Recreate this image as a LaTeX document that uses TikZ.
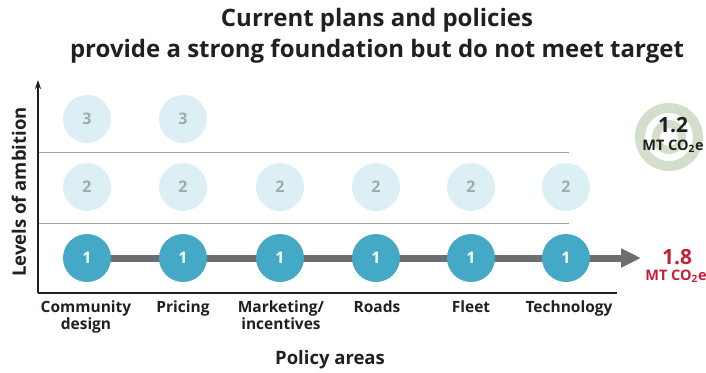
\documentclass[tikz,border=0pt]{standalone}
\usepackage{fontspec}
\setmainfont{Open Sans}
\usetikzlibrary{arrows.meta}
\definecolor{teal}{HTML}{43A9C6}
\definecolor{paleblue}{HTML}{DCEFF4}
\definecolor{numgray}{HTML}{A7A9AC}
\definecolor{bargray}{HTML}{6D6E71}
\definecolor{gridgray}{HTML}{9D9FA2}
\definecolor{targetred}{HTML}{C4203A}
\definecolor{sage}{HTML}{D3DFCB}
\definecolor{ink}{HTML}{231F20}
\tikzset{
  lvlone/.style={circle, fill=teal, minimum size=48pt, inner sep=0pt,
    text=white, font=\bfseries\fontsize{16}{16}\selectfont},
  lvlup/.style={circle, fill=paleblue, minimum size=48pt, inner sep=0pt,
    text=numgray, font=\bfseries\fontsize{16}{16}\selectfont},
  cat/.style={align=center, text=ink, font=\bfseries\fontsize{15.5}{17}\selectfont},
  gridline/.style={draw=gridgray, line width=1pt},
  axisline/.style={draw=ink, line width=1.2pt},
  axtitle/.style={text=ink, font=\bfseries\fontsize{18.5}{20}\selectfont},
  bigval/.style={font=\bfseries\fontsize{21}{21}\selectfont},
  unitval/.style={font=\bfseries\fontsize{14.5}{15}\selectfont},
}
\begin{document}
\begin{tikzpicture}[x=1pt, y=-1pt]
\useasboundingbox (0,0) rectangle (706,372);

% title
\node[align=center, text=ink, font=\bfseries\fontsize{24}{31}\selectfont] (title) at (377,36)
  {Current plans and policies\\provide a strong foundation but do not meet target};

% grid lines between levels
\coordinate (g1a) at (38,152); \coordinate (g1b) at (569,152);
\coordinate (g2a) at (38,223); \coordinate (g2b) at (569,223);
\draw[gridline] (g1a) -- (g1b);
\draw[gridline] (g2a) -- (g2b);

% axes
\coordinate (origin) at (38,293);
\coordinate (ytop) at (38,80);
\coordinate (xend) at (617,293);
\draw[axisline, -{Stealth[length=9pt, width=6pt]}] (origin) -- (ytop);
\draw[axisline] (origin) -- (xend);

% baseline arrow through level 1
\coordinate (arrowtip) at (641,258);
\draw[bargray, line width=7pt, -{Triangle[length=20pt, width=18pt]}] (87,258) -- (arrowtip);

% level 1
\node[lvlone] (c1) at (87,258) {1};
\node[lvlone] (c2) at (183,258) {1};
\node[lvlone] (c3) at (280,258) {1};
\node[lvlone] (c4) at (376,258) {1};
\node[lvlone] (c5) at (471,258) {1};
\node[lvlone] (c6) at (566,258) {1};

% level 2
\node[lvlup] (b1) at (87,187) {2};
\node[lvlup] (b2) at (183,187) {2};
\node[lvlup] (b3) at (280,187) {2};
\node[lvlup] (b4) at (376,187) {2};
\node[lvlup] (b5) at (471,187) {2};
\node[lvlup] (b6) at (566,187) {2};

% level 3
\node[lvlup] (a1) at (87,119) {3};
\node[lvlup] (a2) at (183,119) {3};

% policy area labels
\node[cat, anchor=north] (l1) at (86,297) {Community\\design};
\node[cat, anchor=north] (l2) at (183,297) {Pricing};
\node[cat, anchor=north] (l3) at (281,297) {Marketing/\\incentives};
\node[cat, anchor=north] (l4) at (377,297) {Roads};
\node[cat, anchor=north] (l5) at (471,297) {Fleet};
\node[cat, anchor=north] (l6) at (569,297) {Technology};

% axis titles
\node[axtitle] (xlab) at (330,360) {Policy areas};
\node[axtitle, rotate=90] (ylab) at (19,192) {Levels of ambition};

% current trajectory value
\node[text=targetred, bigval] (cur) at (677,257) {1.8};
\node[text=targetred, unitval] (curu) at (676,276) {MT CO\textsubscript{2}e};

% target
\coordinate (tc) at (669,137);
\fill[sage, even odd rule] (tc) circle (34) (tc) circle (24) (tc) circle (17) (tc) circle (9);
\node[text=ink, bigval] (tgt) at (673,125) {1.2};
\node[text=ink, unitval] (tgtu) at (673,146) {MT CO\textsubscript{2}e};
\end{tikzpicture}
\end{document}
